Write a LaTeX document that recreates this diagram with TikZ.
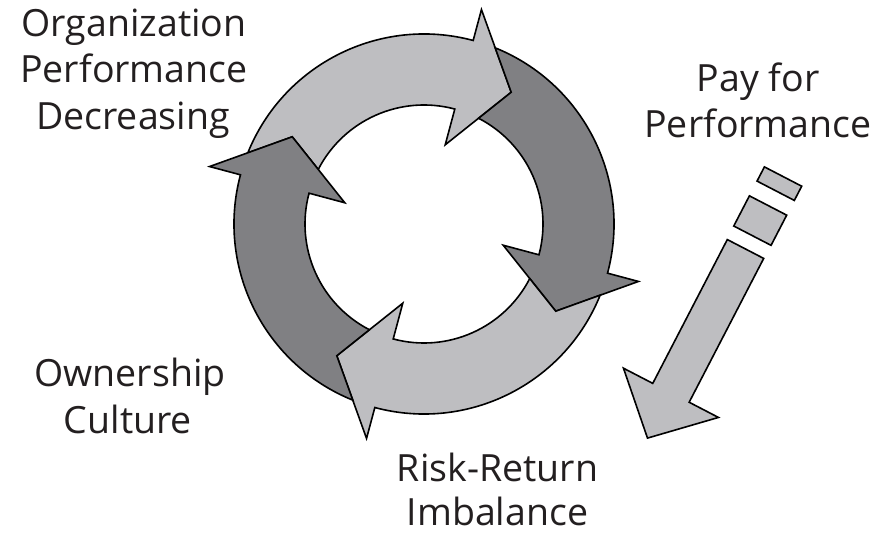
\documentclass[tikz,border=0pt]{standalone}
\usepackage{fontspec}
\setmainfont{Open Sans}
\definecolor{lightg}{RGB}{190,190,193}
\definecolor{darkg}{RGB}{128,128,131}
\definecolor{txt}{RGB}{35,31,32}
\newcommand\cyclearrow[2]{%
  \pgfmathsetmacro\tailo{#1+83}%
  \pgfmathsetmacro\taili{#1+77.7}%
  \pgfmathsetmacro\tailt{#1+71.5}%
  \pgfmathsetmacro\tipa{#1-18.5}%
  \draw[shapesty, fill=#2] (\tailo:190) arc[start angle=\tailo, end angle=#1, radius=190pt]
    -- (#1:222) -- (\tipa:158) -- (#1:82) -- (#1:119)
    arc[start angle=#1, end angle=\taili, radius=119pt] -- (\tailt:158) -- cycle;
}
\begin{document}
\begin{tikzpicture}[x=1pt,y=1pt,
  shapesty/.style={draw=black, line width=1.6pt, line join=miter},
  lbl/.style={font=\fontsize{37.5}{46}\selectfont, text=txt, anchor=base, inner sep=0pt}]
\useasboundingbox (0,0) rectangle (889,-534);
\fill[white] (0,0) rectangle (889,-534);
% cycle
\begin{scope}[shift={(424,-224)}]
  \cyclearrow{75}{lightg}
  \cyclearrow{-15}{darkg}
  \cyclearrow{-105}{lightg}
  \cyclearrow{165}{darkg}
\end{scope}
% straight arrow with dashes
\begin{scope}[shift={(745.5,-249)}, rotate=-117.4]
  \draw[shapesty, fill=lightg] (0,20.5) -- (162,20.5) -- (162,53.5) -- (213,0) -- (162,-53.5) -- (162,-20.5) -- (0,-20.5) -- cycle;
  \draw[shapesty, fill=lightg] (-49,21) rectangle (-15,-21);
  \draw[shapesty, fill=lightg] (-81.6,21) rectangle (-65.6,-21);
\end{scope}
% labels
\node[lbl] (o1) at (134,-37) {Organization};
\node[lbl] (o2) at (134,-83) {Performance};
\node[lbl] (o3) at (133,-130) {Decreasing};
\node[lbl] (p1) at (758,-92) {Pay for};
\node[lbl] (p2) at (758,-138) {Performance};
\node[lbl] (w1) at (130,-387) {Ownership};
\node[lbl] (w2) at (128,-433) {Culture};
\node[lbl] (r1) at (497.5,-481) {Risk-Return};
\node[lbl] (r2) at (497.5,-525) {Imbalance};
\end{tikzpicture}
\end{document}
